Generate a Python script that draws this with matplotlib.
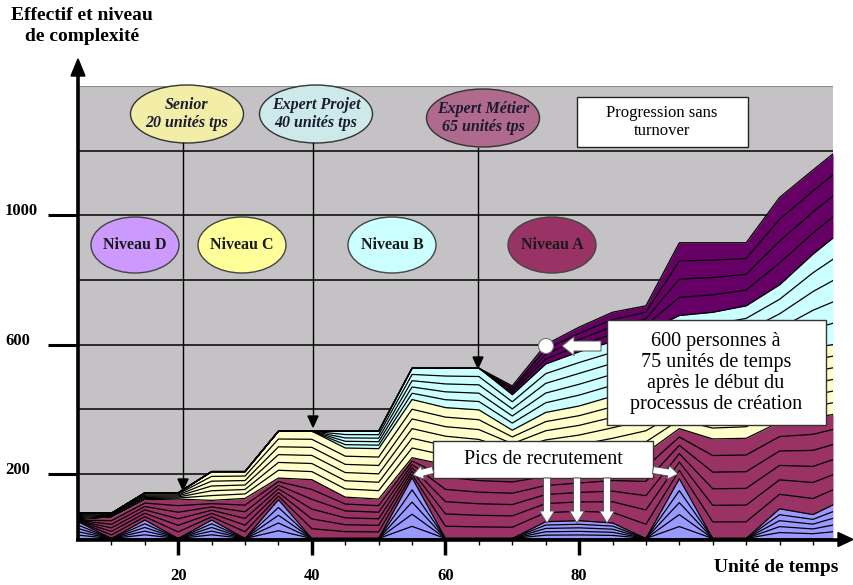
import matplotlib
matplotlib.use("Agg")
import matplotlib.pyplot as plt
import matplotlib.transforms as mtransforms
from matplotlib.patches import Ellipse, Rectangle, FancyArrow, Circle
import numpy as np

plt.rcParams['font.family'] = ['Liberation Serif', 'DejaVu Serif']

# time axis (units of time) and cumulative tops of each coloured layer
time_units = [5, 10, 15, 20, 25, 30, 35, 40, 45, 50, 55, 60,
              65, 70, 75, 80, 85, 90, 95, 100, 105, 110, 115, 118]
blue_top = [52, 0, 57, 0, 57, 0, 120, 0, 0, 0, 188, 0,
            0, 0, 52, 55, 48, 0, 185, 0, 0, 92, 74, 104]
maroon_top = [58, 66, 120, 122, 118, 124, 187, 182, 128, 122, 250, 228,
              215, 210, 220, 230, 245, 265, 340, 308, 310, 360, 372, 384]
yellow_top = [78, 78, 141, 141, 207, 207, 332, 332, 280, 278, 430, 405,
              398, 335, 390, 410, 440, 470, 500, 510, 525, 560, 590, 600]
cyan_top = [78, 78, 141, 141, 207, 207, 332, 332, 332, 332, 527, 527,
            527, 445, 540, 578, 610, 640, 690, 700, 720, 785, 880, 930]
purple_top = [78, 78, 141, 141, 207, 207, 332, 332, 332, 332, 527, 527,
              527, 472, 600, 654, 700, 720, 915, 915, 915, 1055, 1140, 1190]

band_colors = ['#9999FF', '#993366', '#FFFFCC', '#CCFFFF', '#660066']
band_lines = [5, 6, 6, 5, 4]   # cohort lines drawn inside each band

y_labels = [200, 600, 1000]
x_labels = [20, 40, 60, 80]

W, H = 854, 585
fig = plt.figure(figsize=(W / 100, H / 100), dpi=100)
ax = fig.add_axes([78 / W, 1 - 538.5 / H, (833 - 78) / W, (538.5 - 86) / H])
ax.set_xlim(5, 118)
ax.set_ylim(0, 1400)
ax.set_facecolor('#C4C2C5')
for s in ax.spines.values():
    s.set_visible(False)

for g in [200, 400, 600, 800, 1000, 1200]:
    ax.axhline(g, color='#1e1e1e', lw=1.3, zorder=1)
ax.axhline(1400, color='#8c8c8c', lw=1.5, zorder=1)

t = np.array(time_units, dtype=float)
tops = [np.zeros_like(t)] + [np.array(a, dtype=float) for a in
                             (blue_top, maroon_top, yellow_top, cyan_top, purple_top)]
ax.plot(t, tops[0], color='black', lw=1.2, zorder=3)
for i, col in enumerate(band_colors):
    lo, hi = tops[i], tops[i + 1]
    ax.fill_between(t, lo, hi, color=col, lw=0, zorder=2)
    n = band_lines[i]
    for k in range(1, n + 1):
        ax.plot(t, lo + (hi - lo) * k / n, color='black', lw=0.9, zorder=3)

# ticks
ax.set_yticks(y_labels)
ax.set_yticklabels([])
ax.tick_params(axis='y', which='major', length=21.6, width=2.2, color='black')
trans = mtransforms.blended_transform_factory(fig.transFigure, ax.transData)
for v in y_labels:
    ax.text(5 / W, v + 12, str(v), transform=trans, ha='left', va='center',
            fontweight='bold', fontsize=12)

ax.set_xticks(x_labels)
ax.set_xticklabels([str(v) for v in x_labels], fontweight='bold', fontsize=12)
ax.tick_params(axis='x', which='major', length=11.5, width=2.5, pad=10)
ax.set_xticks(np.arange(10, 116, 5), minor=True)
ax.tick_params(axis='x', which='minor', length=4.5, width=1)

# overlay in pixel coordinates for annotations
ov = fig.add_axes([0, 0, 1, 1], zorder=5)
ov.set_xlim(0, W)
ov.set_ylim(H, 0)
ov.axis('off')

# axes arrows
ov.plot([78, 78], [541, 72], lw=2.6, color='black', solid_capstyle='butt')
ov.fill([71, 85, 78], [76, 76, 59], color='black')
ov.plot([76, 840], [539.5, 539.5], lw=2.6, color='black', solid_capstyle='butt')
ov.fill([838, 838, 853], [532.5, 546.5, 539.5], color='black')

ov.text(82, 26, "Effectif et niveau\nde complexité", ha='center', va='center',
        fontsize=14, fontweight='bold', linespacing=1.35)
ov.text(776, 567, "Unité de temps", ha='center', va='center',
        fontsize=14, fontweight='bold')

# top ellipses
for cx, cy, fc, txt in [(187, 114, '#F2EEA8', "Senior\n20 unités tps"),
                        (316, 114, '#CDE9E9', "Expert Projet\n40 unités tps"),
                        (483, 118, '#B06A8E', "Expert Métier\n65 unités tps")]:
    ov.add_patch(Ellipse((cx, cy), 113, 58, fc=fc, ec='#333333', lw=1))
    ov.text(cx, cy, txt, ha='center', va='center', fontsize=11.5,
            fontweight='bold', style='italic', color='#1a1a30', linespacing=1.1)

# vertical thin arrows
for x, y0, tip in [(183, 143, 490), (313, 143, 427), (478, 148, 368)]:
    ov.plot([x, x], [y0, tip - 8], color='black', lw=1)
    ov.fill([x - 5, x + 5, x], [tip - 11, tip - 11, tip], color='black')

# niveau ellipses
for cx, fc, txt in [(135, '#CC99FF', "Niveau D"), (242, '#FFFF99', "Niveau C"),
                    (392, '#CCFFFF', "Niveau B"), (552, '#993366', "Niveau A")]:
    ov.add_patch(Ellipse((cx, 245), 88, 56, fc=fc, ec='#444444', lw=1))
    ov.text(cx, 245, txt, ha='center', va='center', fontsize=11.5,
            fontweight='bold', color='#1a1a1a')

# progression box
ov.add_patch(Rectangle((577, 97), 171, 50, fc='white', ec='#222222', lw=1))
ov.text(662, 122, "Progression sans\nturnover", ha='center', va='center',
        fontsize=12, linespacing=1.2)

# 600 personnes box
ov.add_patch(Rectangle((607, 320), 219, 105, fc='white', ec='#333333', lw=1))
ov.text(716, 373, "600 personnes à\n75 unités de temps\naprès le début du\nprocessus de création",
        ha='center', va='center', fontsize=14.5, linespacing=1.15)
ov.add_patch(FancyArrow(601, 346, -39, 0, width=10, head_width=19, head_length=12,
                        length_includes_head=True, fc='white', ec='#555555', lw=0.7))
ov.add_patch(Circle((546, 346), 7.5, fc='white', ec='#777777', lw=0.8))

# pics de recrutement box
ov.add_patch(Rectangle((433, 441), 220, 37, fc='white', ec='#333333', lw=1))
ov.text(543, 460, "Pics de recrutement", ha='center', va='center', fontsize=14.5)
ov.add_patch(FancyArrow(433, 470, -20, 5, width=7, head_width=14, head_length=10,
                        length_includes_head=True, fc='white', ec='#555555', lw=0.7))
ov.add_patch(FancyArrow(653, 470, 25, 4, width=7, head_width=14, head_length=10,
                        length_includes_head=True, fc='white', ec='#555555', lw=0.7))
for x in [547, 577, 607]:
    ov.add_patch(FancyArrow(x, 478, 0, 45, width=7, head_width=15, head_length=12,
                            length_includes_head=True, fc='white', ec='#555555', lw=0.7))

fig.savefig("out.png", dpi=100)
